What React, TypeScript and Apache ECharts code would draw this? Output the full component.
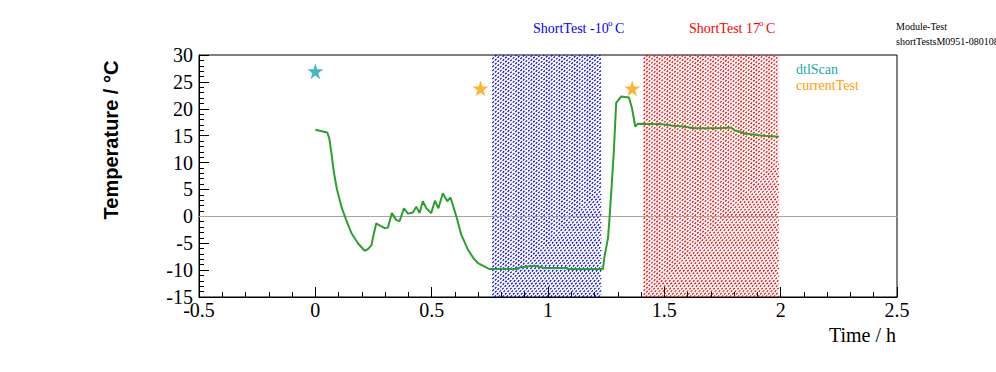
import React, { useEffect, useRef } from "react";
import * as echarts from "echarts";

const times = [0.0, 0.051, 0.06, 0.069, 0.08, 0.093, 0.112, 0.133, 0.155, 0.183, 0.212, 0.226, 0.241, 0.25, 0.262, 0.276, 0.298, 0.312, 0.329, 0.348, 0.362, 0.381, 0.398, 0.419, 0.434, 0.448, 0.462, 0.477, 0.498, 0.514, 0.529, 0.548, 0.567, 0.581, 0.606, 0.627, 0.656, 0.68, 0.699, 0.749, 0.864, 0.878, 0.942, 0.985, 1.079, 1.085, 1.236, 1.243, 1.258, 1.265, 1.272, 1.283, 1.293, 1.315, 1.348, 1.361, 1.375, 1.386, 1.494, 1.53, 1.58, 1.63, 1.73, 1.788, 1.8, 1.823, 1.845, 1.88, 1.923, 1.992];
const temps = [16.1, 15.6, 14.5, 11.8, 8.1, 5.0, 1.8, -0.7, -3.1, -5.0, -6.4, -6.1, -5.4, -3.5, -1.3, -1.7, -2.2, -2.1, 0.6, -0.7, -0.9, 1.5, 0.5, 0.7, 1.8, 0.6, 2.8, 1.5, 0.6, 2.9, 1.5, 4.3, 2.8, 3.5, 0.0, -3.4, -6.2, -7.8, -8.7, -9.8, -9.8, -9.5, -9.2, -9.6, -9.6, -9.8, -9.8, -7.4, -4.0, 0.0, 4.6, 12.1, 21.1, 22.3, 22.1, 20.1, 16.7, 17.2, 17.1, 16.9, 16.7, 16.4, 16.4, 16.5, 16.0, 15.8, 15.4, 15.2, 15.0, 14.8];

const bandStarts = [0.761, 1.411];
const bandEnds = [1.229, 1.992];
const bandColors = ["#0000ff", "#ff0000"];

const dtlScanTimes = [0.0];
const dtlScanTemps = [27.0];
const currentTestTimes = [0.71, 1.362];
const currentTestTemps = [23.8, 23.8];

const STAR = "path://M50,0 L61,35 L98,35 L68,57 L79,91 L50,70 L21,91 L32,57 L2,35 L39,35 Z";

export default function App() {
  const ref = useRef<HTMLDivElement>(null);
  useEffect(() => {
    const chart = echarts.init(ref.current!, undefined, { renderer: "svg" });
    const serif = "Liberation Serif";
    const lineData = times.map((t, i) => [t, temps[i]]);
    const option: any = {
      animation: false,
      backgroundColor: "#ffffff",
      grid: { left: 199, right: 99, top: 55, bottom: 75, show: true, borderColor: "#000", borderWidth: 1, backgroundColor: "transparent" },
      xAxis: {
        type: "value",
        min: -0.5,
        max: 2.5,
        interval: 0.5,
        axisLine: { show: true, onZero: false, lineStyle: { color: "#000", width: 1 } },
        axisTick: { show: true, inside: true, length: 10, lineStyle: { color: "#000" } },
        minorTick: { show: true, splitNumber: 5, length: 5, lineStyle: { color: "#000" } },
        splitLine: { show: false },
        axisLabel: { fontFamily: serif, fontSize: 20, color: "#000", margin: 3, showMinLabel: true, showMaxLabel: true },
      },
      yAxis: {
        type: "value",
        min: -15,
        max: 30,
        interval: 5,
        axisLine: { show: true, onZero: false, lineStyle: { color: "#000", width: 1 } },
        axisTick: { show: true, inside: true, length: 10, lineStyle: { color: "#000" } },
        minorTick: { show: true, splitNumber: 5, length: 5, lineStyle: { color: "#000" } },
        splitLine: { show: false },
        axisLabel: { fontFamily: serif, fontSize: 20, color: "#000", margin: 6, showMinLabel: true, showMaxLabel: true },
      },
      series: [
        {
          type: "custom",
          silent: true,
          z: 1,
          data: bandStarts.map((s, i) => [s, bandEnds[i], i]),
          renderItem: (params: any, api: any) => {
            const s = api.value(0);
            const e = api.value(1);
            const idx = api.value(2);
            const p0 = api.coord([s, 30]);
            const p1 = api.coord([e, -15]);
            const x0 = p0[0], y0 = p0[1], x1 = p1[0], y1 = p1[1];
            const color = bandColors[idx];
            const children: any[] = [];
            const step = 4;
            for (let c = x0 + y0; c <= x1 + y1; c += step) {
              const xa = Math.max(x0, c - y1);
              const xb = Math.min(x1, c - y0);
              if (xb <= xa) continue;
              children.push({
                type: "line",
                shape: { x1: xa, y1: c - xa, x2: xb, y2: c - xb },
                style: { stroke: color, lineWidth: 1.2, lineDash: [2.2, 1.4] },
              });
            }
            return { type: "group", children };
          },
        },
        {
          type: "line",
          data: [],
          silent: true,
          z: 2,
          markLine: {
            silent: true,
            symbol: "none",
            label: { show: false },
            lineStyle: { color: "#aaa49c", width: 1, type: "solid" },
            data: [{ yAxis: 0 }],
          },
        },
        {
          type: "line",
          data: lineData,
          showSymbol: false,
          symbol: "none",
          lineStyle: { color: "#2ca02c", width: 2 },
          z: 5,
        },
        {
          type: "scatter",
          data: dtlScanTimes.map((t, i) => [t, dtlScanTemps[i]]),
          symbol: STAR,
          symbolSize: 16,
          itemStyle: { color: "#17a8a8" },
          z: 6,
        },
        {
          type: "scatter",
          data: currentTestTimes.map((t, i) => [t, currentTestTemps[i]]),
          symbol: STAR,
          symbolSize: 16,
          itemStyle: { color: "#ffa000" },
          z: 6,
        },
      ],
      graphic: [
        { type: "text", x: 111, y: 140, rotation: Math.PI / 2, style: { text: "Temperature / °C", font: "bold 20px 'Liberation Sans'", fill: "#000", align: "center", verticalAlign: "middle" } },
        { type: "text", x: 896, y: 335, style: { text: "Time / h", font: "20px 'Liberation Serif'", fill: "#000", align: "right", verticalAlign: "middle" } },
        { type: "text", x: 533, y: 28, style: { text: "ShortTest -10", font: "14px 'Liberation Serif'", fill: "#0000ff", align: "left", verticalAlign: "middle" } },
        { type: "text", x: 608, y: 23, style: { text: "o", font: "9px 'Liberation Serif'", fill: "#0000ff", align: "left", verticalAlign: "middle" } },
        { type: "text", x: 615, y: 28, style: { text: "C", font: "14px 'Liberation Serif'", fill: "#0000ff", align: "left", verticalAlign: "middle" } },
        { type: "text", x: 689, y: 28, style: { text: "ShortTest 17", font: "14px 'Liberation Serif'", fill: "#ff0000", align: "left", verticalAlign: "middle" } },
        { type: "text", x: 759, y: 23, style: { text: "o", font: "9px 'Liberation Serif'", fill: "#ff0000", align: "left", verticalAlign: "middle" } },
        { type: "text", x: 766, y: 28, style: { text: "C", font: "14px 'Liberation Serif'", fill: "#ff0000", align: "left", verticalAlign: "middle" } },
        { type: "text", x: 896, y: 26, style: { text: "Module-Test", font: "10px 'Liberation Serif'", fill: "#000", align: "left", verticalAlign: "middle" } },
        { type: "text", x: 896, y: 41, style: { text: "shortTestsM0951-080108", font: "10px 'Liberation Serif'", fill: "#000", align: "left", verticalAlign: "middle" } },
        { type: "text", x: 796, y: 69, style: { text: "dtlScan", font: "14px 'Liberation Serif'", fill: "#17a8a8", align: "left", verticalAlign: "middle" } },
        { type: "text", x: 796, y: 85, style: { text: "currentTest", font: "14px 'Liberation Serif'", fill: "#ffa000", align: "left", verticalAlign: "middle" } },
      ],
    };
    chart.setOption(option);
    return () => chart.dispose();
  }, []);
  return <div ref={ref} style={{ position: "fixed", left: 0, top: 0, width: 996, height: 372 }} />;
}
